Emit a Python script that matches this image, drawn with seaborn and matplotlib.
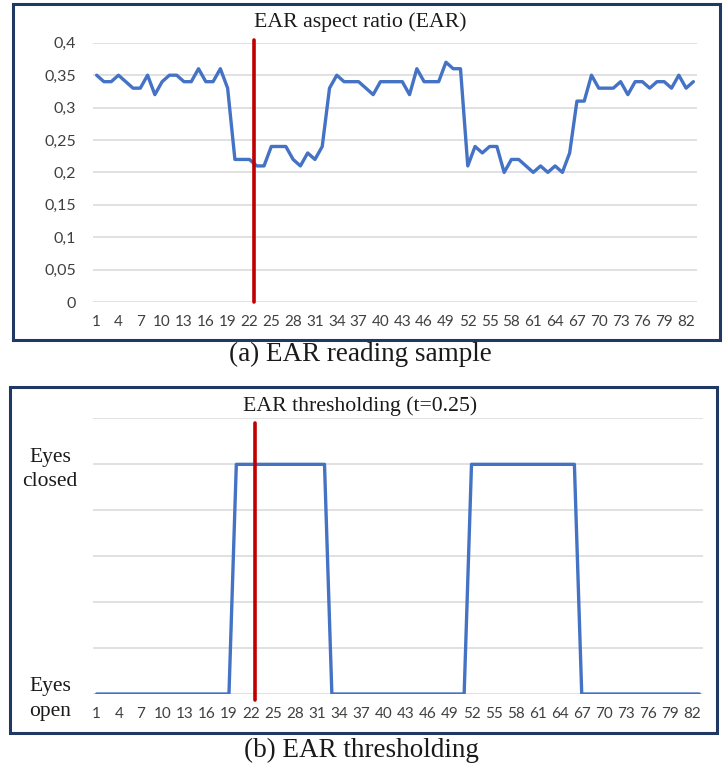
import numpy as np
import pandas as pd
import seaborn as sns
import matplotlib.pyplot as plt
from matplotlib.patches import Rectangle

# ---------------- data ----------------
frames = list(range(1, 84))
ear_values = [
    0.35, 0.34, 0.34, 0.35, 0.34, 0.33, 0.33, 0.35, 0.32, 0.34,
    0.35, 0.35, 0.34, 0.34, 0.36, 0.34, 0.34, 0.36, 0.33, 0.22,
    0.22, 0.22, 0.21, 0.21, 0.24, 0.24, 0.24, 0.22, 0.21, 0.23,
    0.22, 0.24, 0.33, 0.35, 0.34, 0.34, 0.34, 0.33, 0.32, 0.34,
    0.34, 0.34, 0.34, 0.32, 0.36, 0.34, 0.34, 0.34, 0.37, 0.36,
    0.36, 0.21, 0.24, 0.23, 0.24, 0.24, 0.20, 0.22, 0.22, 0.21,
    0.20, 0.21, 0.20, 0.21, 0.20, 0.23, 0.31, 0.31, 0.35, 0.33,
    0.33, 0.33, 0.34, 0.32, 0.34, 0.34, 0.33, 0.34, 0.34, 0.33,
    0.35, 0.33, 0.34,
]
eye_state = ([0] * 19) + ([1] * 13) + ([0] * 19) + ([1] * 15) + ([0] * 17)
marker_frame = 22.6
x_ticks = list(range(1, 84, 3))
ear_ticks = [0, 0.05, 0.1, 0.15, 0.2, 0.25, 0.3, 0.35, 0.4]
ear_tick_labels = ['0', '0,05', '0,1', '0,15', '0,2', '0,25', '0,3', '0,35', '0,4']
state_ticks = [0, 0.2, 0.4, 0.6, 0.8, 1.0, 1.2]
state_tick_labels = ['Eyes\nopen', '', '', '', '', 'Eyes\nclosed', '']
title_a = 'EAR aspect ratio (EAR)'
title_b = 'EAR thresholding (t=0.25)'
caption_a = '(a) EAR reading sample'
caption_b = '(b) EAR thresholding'

df = pd.DataFrame({'frame': frames, 'ear': ear_values, 'state': eye_state})

# ---------------- style ----------------
sns.set_theme(style='white')
plt.rcParams['font.family'] = ['Lato', 'DejaVu Sans']

W, H = 723, 772
fig = plt.figure(figsize=(W / 100, H / 100), dpi=100)


def rect(x0, y0, x1, y1):
    return [x0 / W, 1 - y1 / H, (x1 - x0) / W, (y1 - y0) / H]


BLUE = '#4472C4'
RED = '#C00000'
GRID = '#D9D9D9'
NAVY = '#1F3864'
SERIF = 'Liberation Serif'

# frames around panels
for (x0, y0, x1, y1) in [(13, 4, 720, 340), (10, 387, 717, 733)]:
    fig.patches.append(Rectangle((x0 / W, 1 - y1 / H), (x1 - x0) / W, (y1 - y0) / H,
                                 transform=fig.transFigure, fill=False,
                                 edgecolor=NAVY, lw=2.2, zorder=0))

ax1 = fig.add_axes(rect(93, 42.8, 697, 302))
ax2 = fig.add_axes(rect(93, 418.4, 703, 694))

sns.lineplot(data=df, x='frame', y='ear', ax=ax1, color=BLUE, lw=2.4,
             solid_joinstyle='round', zorder=3)
sns.lineplot(data=df, x='frame', y='state', ax=ax2, color=BLUE, lw=2.4,
             solid_joinstyle='round', zorder=3)

ax1.plot([marker_frame, marker_frame], [0, 0.405], color=RED, lw=2.6,
         clip_on=False, zorder=5)
ax2.plot([marker_frame, marker_frame], [-0.026, 1.18], color=RED, lw=2.6,
         clip_on=False, zorder=5)

for ax in (ax1, ax2):
    ax.set_xlim(0.5, 83.5)
    ax.set_xticks(x_ticks)
    ax.set_xticklabels([str(t) for t in x_ticks])
    ax.set_xlabel('')
    ax.set_ylabel('')
    for s in ax.spines.values():
        s.set_visible(False)
    ax.yaxis.grid(True, color=GRID, lw=1.1, zorder=0)
    ax.xaxis.grid(False)
    ax.tick_params(axis='both', length=0)
    ax.tick_params(axis='x', labelsize=11, labelcolor='#404040', pad=9)
    ax.set_facecolor('none')

ax1.set_ylim(0, 0.4)
ax1.set_yticks(ear_ticks)
ax1.set_yticklabels(ear_tick_labels)
ax1.tick_params(axis='y', labelsize=11.5, labelcolor='#404040', pad=12)

ax2.set_ylim(0, 1.2)
ax2.set_yticks(state_ticks)
ax2.set_yticklabels(state_tick_labels, family=SERIF, fontsize=15.5,
                    color='#1a1a1a', ha='center', multialignment='center',
                    linespacing=1.4)
ax2.tick_params(axis='y', pad=31)

fig.text(360.5 / W, 1 - 22 / H, title_a, family=SERIF, fontsize=15.7,
         color='#1a1a1a', ha='center', va='center')
fig.text(360.5 / W, 1 - 406 / H, title_b, family=SERIF, fontsize=15.7,
         color='#1a1a1a', ha='center', va='center')
fig.text(360.5 / W, 1 - 354 / H, caption_a, family=SERIF, fontsize=19.5,
         color='#1a1a1a', ha='center', va='center')
fig.text(361 / W, 1 - 750 / H, caption_b, family=SERIF, fontsize=19.5,
         color='#1a1a1a', ha='center', va='center')

fig.savefig('out.png', dpi=100)
